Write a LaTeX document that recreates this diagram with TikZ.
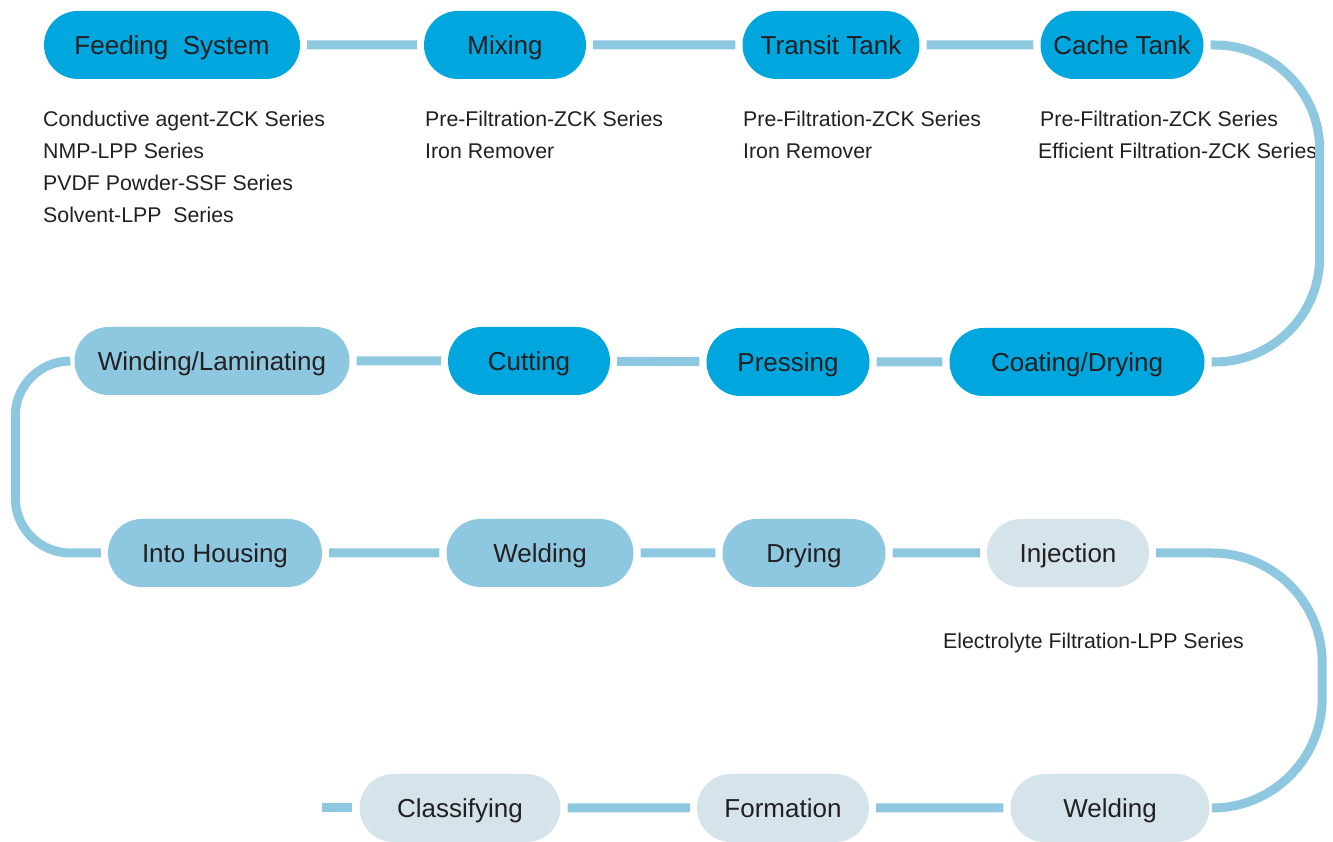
\documentclass[tikz,border=0pt]{standalone}
\usepackage{fontspec}
\setmainfont{Liberation Sans}
\usetikzlibrary{shapes.misc}
\definecolor{deepblue}{RGB}{0,167,223}
\definecolor{midblue}{RGB}{142,200,224}
\definecolor{paleblue}{RGB}{213,228,234}
\definecolor{ink}{RGB}{35,31,32}
\begin{document}
\begin{tikzpicture} [
            x=1pt, y=1pt,
            stage/.style={rounded rectangle,minimum height=68pt,inner sep=0pt,text height=25pt,text depth=6pt,text=ink,font=\fontsize{26}{30}\selectfont},
            deep/.style={stage,fill=deepblue},
            mid/.style={stage,fill=midblue},
            pale/.style={stage,fill=paleblue},
            note/.style={anchor=base west,inner sep=0pt,text=ink,font=\fontsize{21.3}{25}\selectfont},
            link/.style = {draw,midblue,line width=9pt,shorten <=7pt,shorten >=7pt},
        ]
        \useasboundingbox (0,0) rectangle (1333,842);
        \foreach \pos/\name/\w/\kind/\txt in {
                {(172,797)/feed/256/deep/Feeding\ \ System}, {(505,797)/mix/162/deep/Mixing},
                {(831,797)/transit/177/deep/Transit Tank}, {(1122,797)/cache/163/deep/Cache Tank},
                {(212,481)/wind/275/mid/{Winding/Laminating}}, {(529,481)/cut/162/deep/Cutting},
                {(788,480)/press/163/deep/Pressing}, {(1077,480)/coat/255/deep/{Coating/Drying}},
                {(215,289)/house/214/mid/Into Housing}, {(540,289)/weld/187/mid/Welding},
                {(804,289)/dry/163/mid/Drying}, {(1068,289)/inj/162/pale/Injection},
                {(460,34)/class/201/pale/Classifying}, {(783,34)/form/172/pale/Formation},
                {(1110,34)/weldb/199/pale/Welding}}
            \node[\kind,minimum width=\w pt] (\name) at \pos {\txt};
        \foreach \pos/\txt [count=\i] in {
                {(43,715)/Conductive agent-ZCK Series}, {(43,683)/NMP-LPP Series},
                {(43,651)/PVDF Powder-SSF Series}, {(43,619)/Solvent-LPP\ \ Series},
                {(425,715)/Pre-Filtration-ZCK Series}, {(425,683)/Iron Remover},
                {(743,715)/Pre-Filtration-ZCK Series}, {(743,683)/Iron Remover},
                {(1040,715)/Pre-Filtration-ZCK Series}, {(1038,683)/Efficient Filtration-ZCK Series},
                {(943,193)/Electrolyte Filtration-LPP Series}}
            \node[note] (note\i) at \pos {\txt};
        \coordinate (tail) at (315,34);
        \foreach \source/ \dest in {
                feed/mix,mix/transit,transit/cache,coat/press,press/cut,cut/wind,
                house/weld,weld/dry,dry/inj,weldb/form,form/class,class/tail}
            \path[link] (\source) edge (\dest);
        % bends between the rows
        \draw[link,rounded corners=105pt] (cache.east) -- ++(116,0) |- (coat.east);
        \draw[link,rounded corners=55pt,shorten <=4pt] (wind.west) -- ++(-59,0) |- (house.west);
        \draw[link,rounded corners=110pt] (inj.east) -- ++(173,0) |- (weldb.east);
    \end{tikzpicture}
\end{document}
